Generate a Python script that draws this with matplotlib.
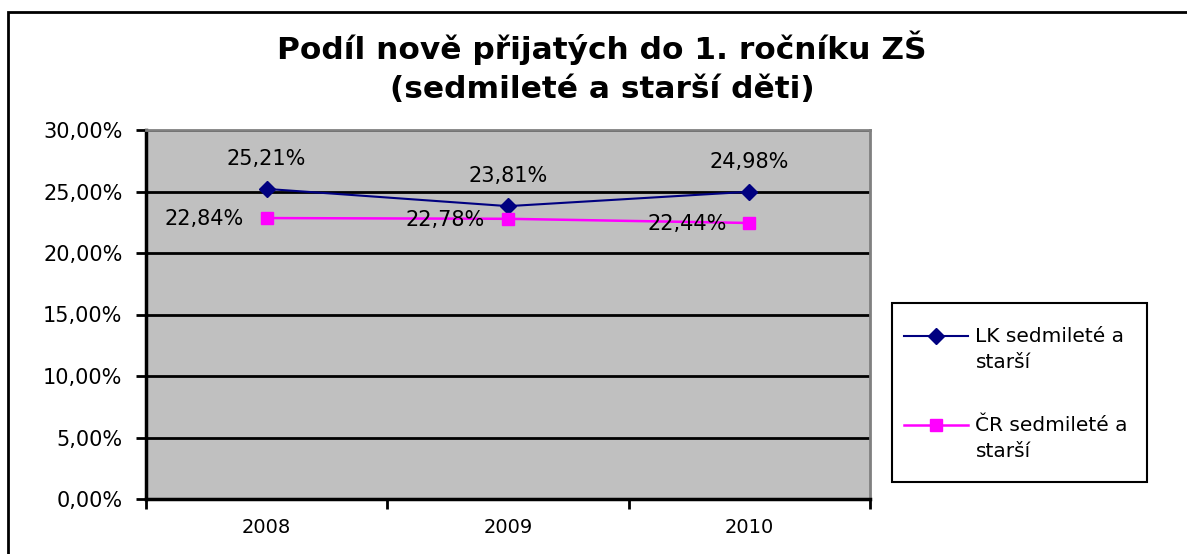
import matplotlib
matplotlib.use("Agg")
import matplotlib.pyplot as plt
from matplotlib.patches import Rectangle

plt.rcParams['font.family'] = ['DejaVu Sans']

years = ["2008", "2009", "2010"]
lk_values = [25.21, 23.81, 24.98]
cr_values = [22.84, 22.78, 22.44]
lk_name = "LK sedmileté a\nstarší"
cr_name = "ČR sedmileté a\nstarší"
y_ticks = [0, 5, 10, 15, 20, 25, 30]

W, H = 1187, 554
fig = plt.figure(figsize=(W / 100, H / 100), dpi=100)

# plot area in pixels: x 146..870, y 130..499
ax = fig.add_axes([146 / W, 1 - 499 / H, (870 - 146) / W, (499 - 130) / H])
ax.set_facecolor("#c0c0c0")

x = list(range(len(years)))
ax.plot(x, lk_values, color="#000080", marker="D", markersize=8, linewidth=1.5, label=lk_name, zorder=3)
ax.plot(x, cr_values, color="#ff00ff", marker="s", markersize=9, linewidth=1.8, label=cr_name, zorder=3)

def fmt(v):
    return f"{v:.2f}".replace(".", ",") + "%"

for i, v in enumerate(lk_values):
    ax.annotate(fmt(v), (i, v), xytext=(0, 21.5), textcoords="offset points",
                ha="center", va="center", fontsize=15)
for i, v in enumerate(cr_values):
    ax.annotate(fmt(v), (i, v), xytext=(-16.5, -1), textcoords="offset points",
                ha="right", va="center", fontsize=15)

ax.set_xlim(-0.5, 2.5)
ax.set_ylim(0, 30)
ax.set_yticks(y_ticks)
ax.set_yticklabels([fmt(t) for t in y_ticks], fontsize=15)
ax.set_xticks(x)
ax.set_xticklabels(years, fontsize=14)
ax.set_xticks([-0.5, 0.5, 1.5, 2.5], minor=True)
ax.tick_params(axis="x", which="major", length=0, pad=14)
ax.tick_params(axis="x", which="minor", length=7, width=2, direction="out")
ax.tick_params(axis="y", length=7, width=2, pad=10)
ax.yaxis.grid(True, color="black", linewidth=2)
ax.set_axisbelow(True)
for s in ["left", "bottom"]:
    ax.spines[s].set_linewidth(2.5)
    ax.spines[s].set_color("black")
for s in ["right", "top"]:
    ax.spines[s].set_linewidth(2)
    ax.spines[s].set_color("#808080")

fig.text(602 / W, 1 - 48 / H, "Podíl nově přijatých do 1. ročníku ZŠ",
         ha="center", va="center", fontsize=22.5, fontweight="bold")
fig.text(602 / W, 1 - 89 / H, "(sedmileté a starší děti)",
         ha="center", va="center", fontsize=22.5, fontweight="bold")

# outer chart border (right and bottom are cut off)
fig.patches.append(Rectangle((8 / W, -0.05), 1.1, 1 - 12 / H + 0.05,
                             transform=fig.transFigure, fill=False,
                             edgecolor="black", linewidth=2))

# legend frame drawn separately so its size matches the original box
fig.patches.append(Rectangle((892 / W, 1 - 482 / H), (1147 - 892) / W, (482 - 303) / H,
                             transform=fig.transFigure, facecolor="white",
                             edgecolor="black", linewidth=1.5))
leg = fig.legend(loc="upper left", bbox_to_anchor=(904 / W, 1 - 327 / H),
                 fontsize=14.5, frameon=False,
                 handlelength=3.2, handletextpad=0.35, labelspacing=2.2,
                 borderpad=0, borderaxespad=0)
for t in leg.get_texts():
    t.set_linespacing(1.45)
# line up each legend symbol with the first line of its label
for h in leg.legend_handles:
    h.set_ydata([y + 10 for y in h.get_ydata()])

fig.savefig("out.png", dpi=100, facecolor="white")
